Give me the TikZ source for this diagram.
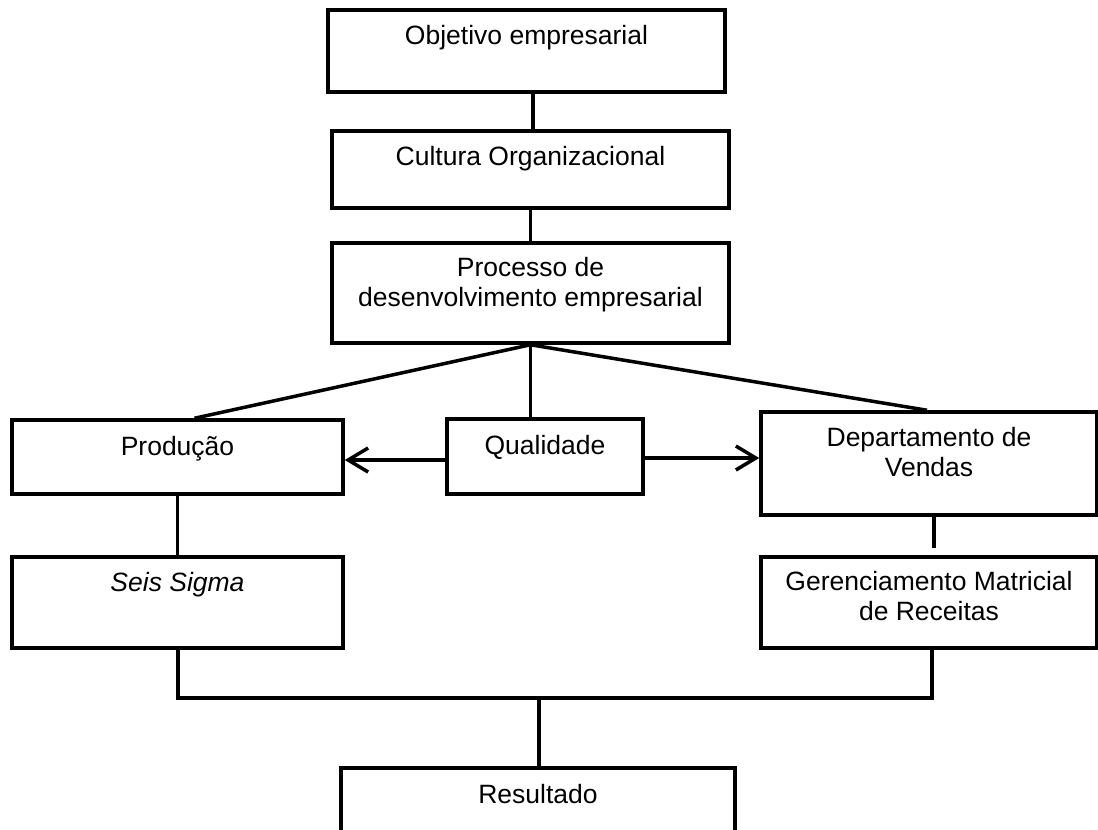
\documentclass[tikz,border=0pt]{standalone}
\usepackage{fontspec}
\setmainfont{Liberation Sans}
\usetikzlibrary{arrows.meta}
\begin{document}
\begin{tikzpicture}[x=1pt,y=-1pt,
  box/.style={draw=black, line width=3.5pt, rectangle, inner sep=0pt},
  lbl/.style={anchor=base, inner sep=0pt, align=center, font=\fontsize{26.5}{30}\selectfont},
  link/.style={draw=black, line width=3.5pt},
  arrowlink/.style={link, -{Straight Barb[length=20pt,width=24pt]}}]
\useasboundingbox (0,0) rectangle (1098,830);
\clip (0,0) rectangle (1098,830);

% boxes
\node[box, minimum width=397pt, minimum height=82pt]  (obj)  at (526.5,51)   {};
\node[box, minimum width=397pt, minimum height=77pt]  (cult) at (530.5,169.5) {};
\node[box, minimum width=397pt, minimum height=100pt] (proc) at (530.5,293)  {};
\node[box, minimum width=331pt, minimum height=74pt]  (prod) at (177.5,457)  {};
\node[box, minimum width=196pt, minimum height=75pt]  (qual) at (545,456.5)  {};
\node[box, minimum width=336pt, minimum height=103pt] (dept) at (929,463.5)  {};
\node[box, minimum width=331pt, minimum height=91pt]  (seis) at (177.5,602.5) {};
\node[box, minimum width=336pt, minimum height=91pt]  (ger)  at (929,602.5)  {};
\node[box, minimum width=394pt, minimum height=140pt] (res)  at (538,838)    {};

% labels, set near the top of each box (base = baseline of the last line)
\node[lbl] (objt)  at ([yshift=-36pt]obj.north)  {Objetivo empresarial};
\node[lbl] (cultt) at ([yshift=-36pt]cult.north) {Cultura Organizacional};
\node[lbl] (proct) at ([yshift=-65pt]proc.north) {Processo de\\desenvolvimento empresarial};
\node[lbl] (prodt) at ([yshift=-37pt]prod.north) {Produção};
\node[lbl] (qualt) at ([yshift=-37pt]qual.north) {Qualidade};
\node[lbl] (deptt) at ([yshift=-66pt]dept.north) {Departamento de\\Vendas};
\node[lbl] (seist) at ([yshift=-36pt]seis.north) {\itshape Seis Sigma};
\node[lbl] (gert)  at ([yshift=-65pt]ger.north)  {Gerenciamento Matricial\\de Receitas};
\node[lbl] (rest)  at ([yshift=-37pt]res.north)  {Resultado};

% vertical chain
\draw[link] ([xshift=2.5pt]cult.north |- obj.south) -- ([xshift=2.5pt]cult.north);
\draw[link] (cult.south) -- (proc.south |- proc.north);

% fan out from the process box
\draw[link] (proc.south) -- ([xshift=17pt]prod.north);
\draw[link] (proc.south) -- (proc.south |- qual.north);
\draw[link] (proc.south) -- ([xshift=-2pt]dept.north);

% arrows from quality
\draw[arrowlink] ([yshift=-3.5pt]qual.west) -- ([yshift=-3.5pt]qual.west -| prod.east);
\draw[arrowlink] ([yshift=-1.5pt]qual.east) -- ([yshift=-1.5pt]qual.east -| dept.west);

% lower branches
\draw[link] (prod.south) -- (seis.north);
\draw[link] ([xshift=5pt]dept.south) -- ([xshift=5pt,yshift=7pt]ger.north);

% collecting bus into the result
\coordinate (bus) at (539,698);
\draw[link] ([xshift=0.5pt]seis.south) -- ([xshift=0.5pt]seis.south |- bus)
  -- ([xshift=3pt]ger.south |- bus) -- ([xshift=3pt]ger.south);
\draw[link] (bus) -- (bus |- res.north);
\end{tikzpicture}
\end{document}
